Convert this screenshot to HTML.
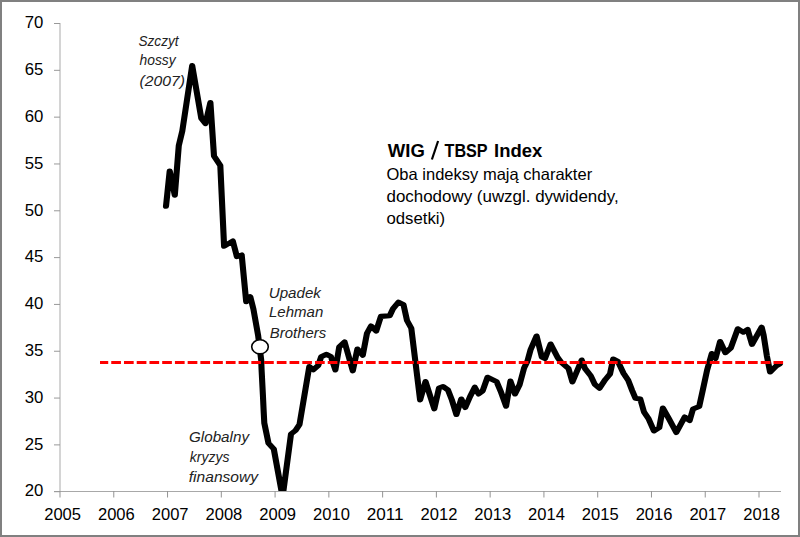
<!DOCTYPE html>
<html><head><meta charset="utf-8"><style>
html,body{margin:0;padding:0;background:#fff;}
body{width:800px;height:537px;overflow:hidden;position:relative;}
svg{position:absolute;left:0;top:0;display:block;}
text{font-family:"Liberation Sans",sans-serif;fill:#000;}
.ax{font-size:16px;}
.it{font-size:14px;font-style:italic;fill:#222;}
.ti{font-size:18.5px;font-weight:bold;}
.bo{font-size:16.5px;fill:#000;}
</style></head><body>
<svg width="800" height="537" viewBox="0 0 800 537">
<rect x="0" y="0" width="800" height="537" fill="#fff"/>
<clipPath id="pa"><rect x="60" y="0" width="740" height="491"/></clipPath>
<rect x="59" y="23" width="2" height="468" fill="#d4d4d4"/>
<g fill="#a8a8a8">
<rect x="54" y="491" width="727" height="1"/>
<rect x="54" y="491.20" width="6" height="1" fill="#999"/><rect x="54" y="444.38" width="6" height="1" fill="#999"/><rect x="54" y="397.56" width="6" height="1" fill="#999"/><rect x="54" y="350.74" width="6" height="1" fill="#999"/><rect x="54" y="303.92" width="6" height="1" fill="#999"/><rect x="54" y="257.10" width="6" height="1" fill="#999"/><rect x="54" y="210.28" width="6" height="1" fill="#999"/><rect x="54" y="163.46" width="6" height="1" fill="#999"/><rect x="54" y="116.64" width="6" height="1" fill="#999"/><rect x="54" y="69.82" width="6" height="1" fill="#999"/><rect x="54" y="23.00" width="6" height="1" fill="#999"/><rect x="59.50" y="491" width="1" height="6.5" fill="#949494"/><rect x="113.27" y="491" width="1" height="6.5" fill="#949494"/><rect x="167.04" y="491" width="1" height="6.5" fill="#949494"/><rect x="220.81" y="491" width="1" height="6.5" fill="#949494"/><rect x="274.58" y="491" width="1" height="6.5" fill="#949494"/><rect x="328.35" y="491" width="1" height="6.5" fill="#949494"/><rect x="382.12" y="491" width="1" height="6.5" fill="#949494"/><rect x="435.88" y="491" width="1" height="6.5" fill="#949494"/><rect x="489.65" y="491" width="1" height="6.5" fill="#949494"/><rect x="543.42" y="491" width="1" height="6.5" fill="#949494"/><rect x="597.19" y="491" width="1" height="6.5" fill="#949494"/><rect x="650.96" y="491" width="1" height="6.5" fill="#949494"/><rect x="704.73" y="491" width="1" height="6.5" fill="#949494"/><rect x="758.50" y="491" width="1" height="6.5" fill="#949494"/>
</g>
<g class="ax" text-anchor="end"><text x="43.3" y="496.45" textLength="18.6" lengthAdjust="spacingAndGlyphs">20</text><text x="43.3" y="449.63" textLength="18.6" lengthAdjust="spacingAndGlyphs">25</text><text x="43.3" y="402.81" textLength="18.6" lengthAdjust="spacingAndGlyphs">30</text><text x="43.3" y="355.99" textLength="18.6" lengthAdjust="spacingAndGlyphs">35</text><text x="43.3" y="309.17" textLength="18.6" lengthAdjust="spacingAndGlyphs">40</text><text x="43.3" y="262.35" textLength="18.6" lengthAdjust="spacingAndGlyphs">45</text><text x="43.3" y="215.53" textLength="18.6" lengthAdjust="spacingAndGlyphs">50</text><text x="43.3" y="168.71" textLength="18.6" lengthAdjust="spacingAndGlyphs">55</text><text x="43.3" y="121.89" textLength="18.6" lengthAdjust="spacingAndGlyphs">60</text><text x="43.3" y="75.07" textLength="18.6" lengthAdjust="spacingAndGlyphs">65</text><text x="43.3" y="28.25" textLength="18.6" lengthAdjust="spacingAndGlyphs">70</text></g>
<g class="ax" text-anchor="middle"><text x="62.60" y="520" textLength="36.8" lengthAdjust="spacingAndGlyphs">2005</text><text x="116.37" y="520" textLength="36.8" lengthAdjust="spacingAndGlyphs">2006</text><text x="170.14" y="520" textLength="36.8" lengthAdjust="spacingAndGlyphs">2007</text><text x="223.91" y="520" textLength="36.8" lengthAdjust="spacingAndGlyphs">2008</text><text x="277.68" y="520" textLength="36.8" lengthAdjust="spacingAndGlyphs">2009</text><text x="331.45" y="520" textLength="36.8" lengthAdjust="spacingAndGlyphs">2010</text><text x="385.22" y="520" textLength="36.8" lengthAdjust="spacingAndGlyphs">2011</text><text x="438.98" y="520" textLength="36.8" lengthAdjust="spacingAndGlyphs">2012</text><text x="492.75" y="520" textLength="36.8" lengthAdjust="spacingAndGlyphs">2013</text><text x="546.52" y="520" textLength="36.8" lengthAdjust="spacingAndGlyphs">2014</text><text x="600.29" y="520" textLength="36.8" lengthAdjust="spacingAndGlyphs">2015</text><text x="654.06" y="520" textLength="36.8" lengthAdjust="spacingAndGlyphs">2016</text><text x="707.83" y="520" textLength="36.8" lengthAdjust="spacingAndGlyphs">2017</text><text x="761.60" y="520" textLength="36.8" lengthAdjust="spacingAndGlyphs">2018</text></g>
<g clip-path="url(#pa)"><g transform="scale(1,0.833333)"><polyline points="166,247.56 169.7,205.20 174.8,234.36 178.8,174.48 182.3,157.20 192.2,78.60 201.3,141.96 205.5,148.32 210.4,123.00 214,187.20 220.3,198.48 224.1,295.56 232.8,289.20 236.9,307.92 241.7,306.00 246.2,362.16 250.3,356.16 253.4,370.80 258.2,403.08 261.2,432.00 261.6,444.00 262.9,474.00 263.7,494.16 264.3,507.60 268.5,531.96 273.8,538.80 282.6,596.40 291,520.80 295.5,516.60 299.5,509.40 309.3,439.80 313.3,443.76 318.2,438.60 321.2,428.16 326.6,425.16 330.9,427.92 335.4,444.00 339.2,416.40 344.6,410.40 352.8,444.96 357.4,418.80 362.8,426.24 367,399.84 371,391.20 376.2,397.20 380.9,379.68 389.7,378.84 393,370.56 398.5,362.52 403.5,365.52 407,384.60 411.3,393.84 420.1,480.00 425.5,457.80 434.3,490.56 439,465.60 443,463.80 448,468.00 451.9,480.00 456.4,497.40 461.3,478.80 465.3,489.00 470.1,475.80 474.8,464.64 478.6,472.80 482.7,468.96 487.5,452.76 496.6,457.92 500.6,469.32 506.1,487.44 510.4,457.20 515,472.80 519.6,461.76 524.1,441.60 527.4,433.56 530.6,419.52 536.6,403.20 541.8,428.40 545,430.20 550.6,412.80 557.9,429.48 560.9,434.28 568.5,442.20 572.4,458.40 581.7,432.00 585,442.20 590.8,450.96 594.7,461.04 599.5,465.96 605.3,455.52 610,448.80 613.2,430.80 617.9,433.68 623.5,447.84 628.2,456.36 632.2,468.72 635.5,477.96 640.3,478.80 644,494.40 648.4,502.20 653.9,517.20 659.3,513.00 662.9,489.60 669,502.56 676.3,519.00 684.7,500.40 689.7,504.60 693,490.80 699.2,487.80 703.2,465.84 707.1,444.12 711.8,424.20 715.5,430.20 720.1,409.80 725.4,423.24 730.8,417.48 737.8,394.56 743.3,398.64 747.6,395.28 752,413.28 761.7,392.64 763.6,402.00 766.9,427.32 770.1,446.40 776.3,439.08 779.8,436.68" fill="none" stroke="#000" stroke-width="6.1" stroke-linejoin="round" stroke-linecap="round"/></g></g>
<ellipse cx="260" cy="346.8" rx="8.3" ry="7" fill="#fff" stroke="#000" stroke-width="1.6"/>
<line x1="100" y1="362.5" x2="783.1" y2="362.5" stroke="#ff0000" stroke-width="3" stroke-dasharray="9.7 3.035" stroke-dashoffset="1.485"/>
<text class="it" x="138.50" y="45.80" textLength="40.04" lengthAdjust="spacingAndGlyphs">Szczyt</text>
<text class="it" x="139.50" y="64.80" textLength="36.19" lengthAdjust="spacingAndGlyphs">hossy</text>
<text class="it" x="139.50" y="86.10" textLength="45.46" lengthAdjust="spacingAndGlyphs">(2007)</text>
<text class="it" x="268.80" y="297.80" textLength="52.11" lengthAdjust="spacingAndGlyphs">Upadek</text>
<text class="it" x="269.00" y="317.40" textLength="54.25" lengthAdjust="spacingAndGlyphs">Lehman</text>
<text class="it" x="269.80" y="338.10" textLength="56.34" lengthAdjust="spacingAndGlyphs">Brothers</text>
<text class="it" x="189.00" y="441.60" textLength="60.01" lengthAdjust="spacingAndGlyphs">Globalny</text>
<text class="it" x="189.80" y="461.50" textLength="39.67" lengthAdjust="spacingAndGlyphs">kryzys</text>
<text class="it" x="188.80" y="482.00" textLength="69.20" lengthAdjust="spacingAndGlyphs">finansowy</text>
<text class="ti" x="387.80" y="156.60" textLength="37.00" lengthAdjust="spacingAndGlyphs">WIG</text>
<text class="ti" x="444.50" y="156.60" textLength="43.15" lengthAdjust="spacingAndGlyphs">TBSP</text>
<text class="ti" x="494.00" y="156.60" textLength="48.19" lengthAdjust="spacingAndGlyphs">Index</text>
<text class="bo" x="386.50" y="179.60" textLength="205.64" lengthAdjust="spacingAndGlyphs">Oba indeksy mają charakter</text>
<text class="bo" x="386.50" y="201.50" textLength="232.10" lengthAdjust="spacingAndGlyphs">dochodowy (uwzgl. dywidendy,</text>
<text class="bo" x="386.50" y="224.20" textLength="58.62" lengthAdjust="spacingAndGlyphs">odsetki)</text>
<line x1="431.9" y1="159.5" x2="438.1" y2="141" stroke="#000" stroke-width="2.2"/>
<rect x="1" y="1" width="798" height="535" fill="none" stroke="#808080" stroke-width="2"/>
</svg>
</body></html>
